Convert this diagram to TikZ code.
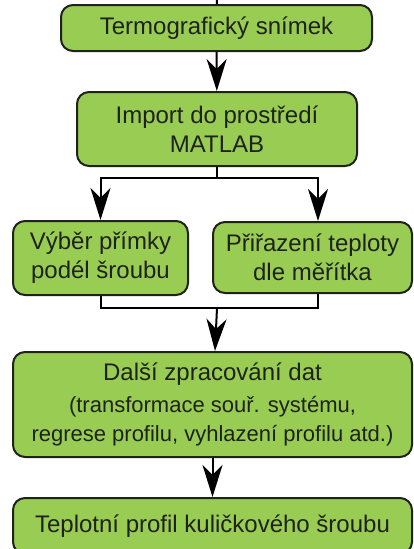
\documentclass[tikz,border=0pt]{standalone}
\usepackage{fontspec}
\setmainfont{Liberation Sans}
\usetikzlibrary{positioning,arrows.meta,calc}
\definecolor{boxgreen}{RGB}{153,204,82}
\definecolor{boxline}{RGB}{30,34,26}
\newcommand{\subtxt}{\fontsize{22}{25}\selectfont}

\begin{document}
\begin{tikzpicture}[thick,x=1pt,y=-1pt,line width=2pt,
  >={Stealth[length=32pt,width=20pt,inset=10pt]}]
\tikzstyle{blok} = [draw=boxline,fill=boxgreen,shape=rectangle,rounded corners=12pt,
  align=center,text=boxline,inner sep=0pt,font=\fontsize{24}{29}\selectfont]
\useasboundingbox (0,0) rectangle (413,549);
\clip (0,0) rectangle (413,549);
\node[blok,minimum width=311pt,minimum height=46pt] (snimek) at (216.5,28) {Termografický snímek};
\node[blok,minimum width=280pt,minimum height=74pt] (import) at (217,129) {Import do prostředí\\MATLAB};
\node[blok,minimum width=175pt,minimum height=74pt] (primka) at (100.5,258) {Výběr přímky\\podél šroubu};
\node[blok,minimum width=199pt,minimum height=71pt] (meritko) at (312.5,257.5) {Přiřazení teploty\\dle měřítka};
\node[blok,minimum width=399pt,minimum height=105pt] (data) at (212.5,404.5)
  {Další zpracování dat\\[3pt]{\subtxt (transformace souř. systému,}\\[0pt]{\subtxt regrese profilu, vyhlazení profilu atd.)}};
\node[blok,minimum width=399pt,minimum height=56pt] (profil) at (212.5,526) {Teplotní profil kuličkového šroubu};
\coordinate (vstup) at (217,0);
\coordinate (rozdel) at (217,178);
\coordinate (spoj) at (217,308);
\draw (vstup) -- (snimek);
\draw [->] (snimek) -- (import);
\draw (import) -- (rozdel);
\draw [->] (rozdel) -| (primka.north);
\draw [->] (rozdel) -| ([xshift=5.5pt]meritko.north);
\draw (primka.south) |- (spoj) -| ([xshift=5.5pt]meritko.south);
\draw [->] (spoj) -- (data);
\draw [->] (data) -- (profil);
\end{tikzpicture}
\end{document}
